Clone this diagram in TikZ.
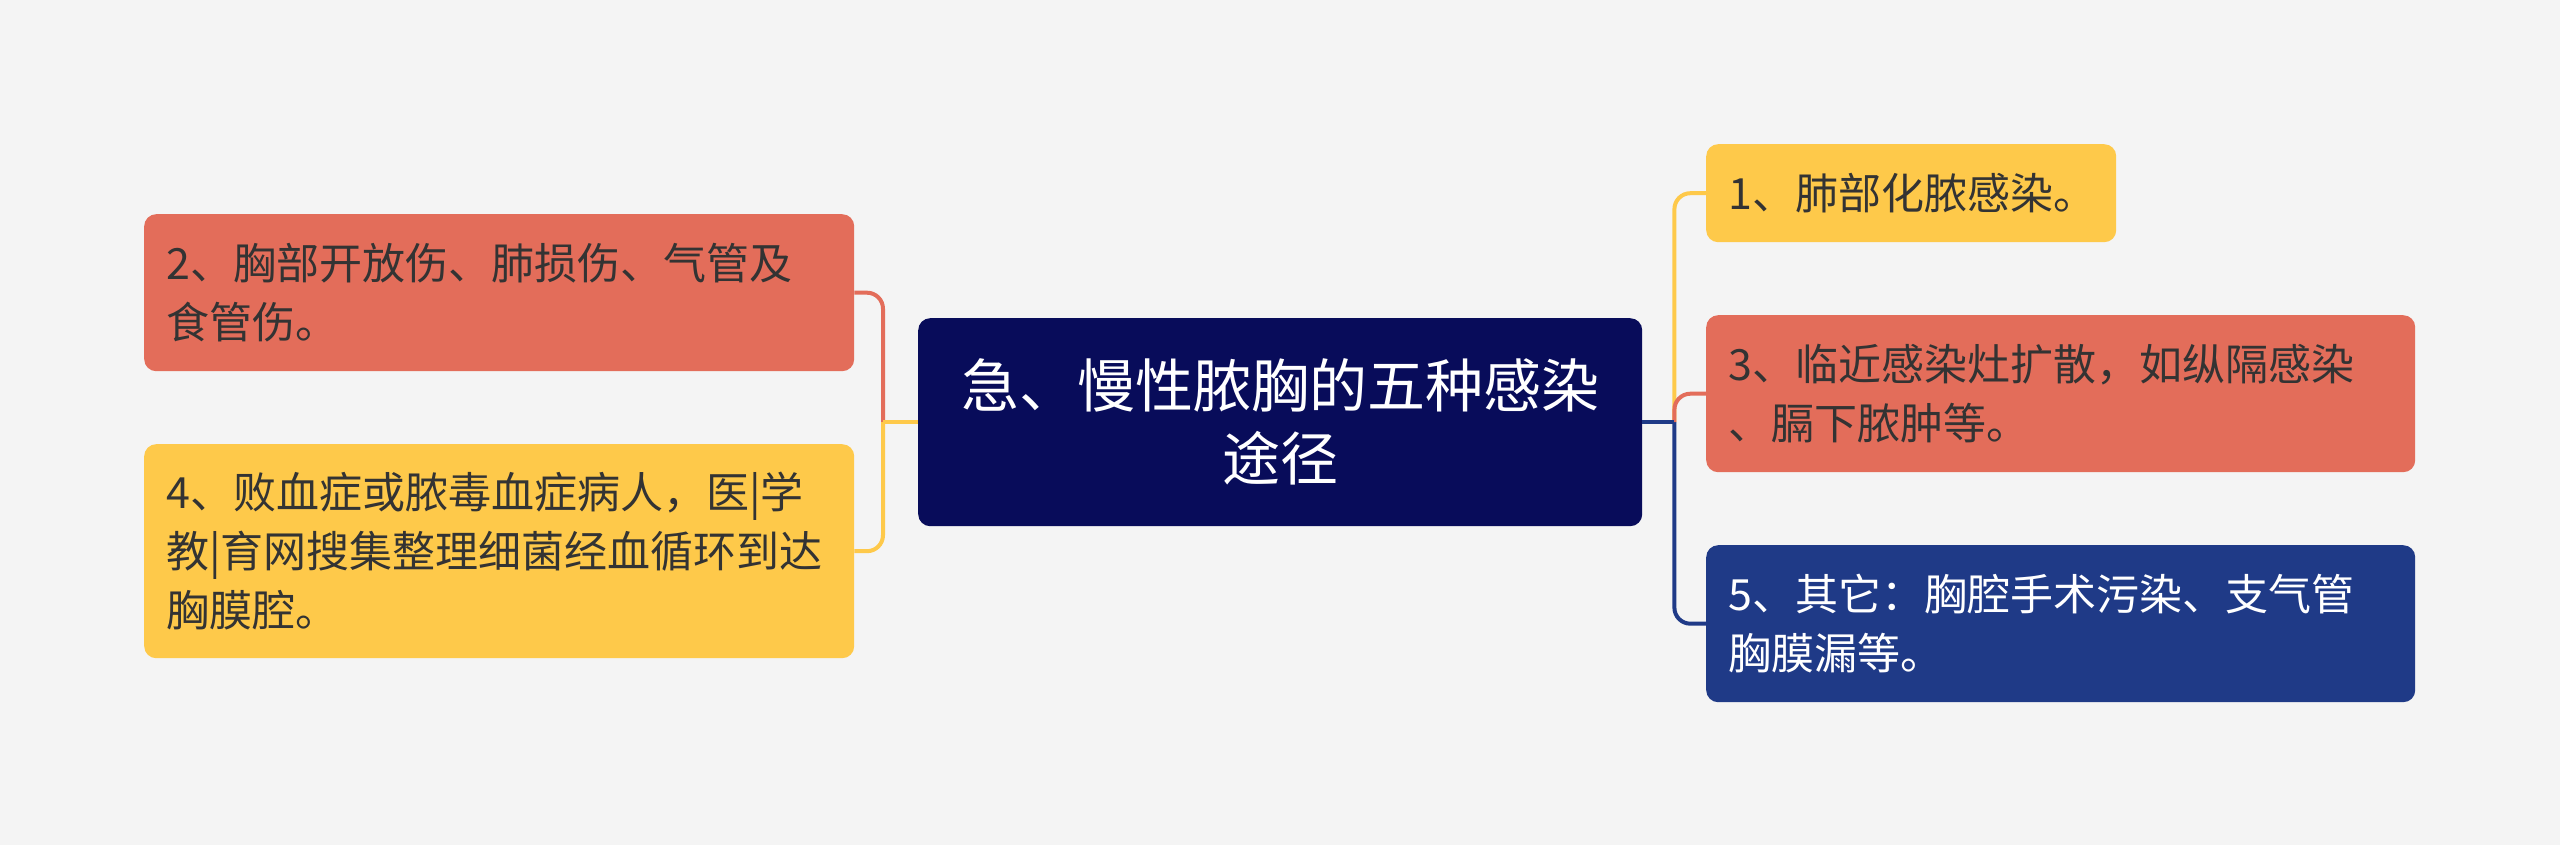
\documentclass[tikz,border=0pt]{standalone}
\usepackage{fontspec}
\setmainfont{Noto Sans CJK SC}
\definecolor{bg}{HTML}{F4F4F4}
\definecolor{navy}{HTML}{080C5A}
\definecolor{coral}{HTML}{E36D5A}
\definecolor{sun}{HTML}{FEC94A}
\definecolor{deepblue}{HTML}{1F3A87}
\definecolor{ink}{HTML}{333333}
\begin{document}
\begin{tikzpicture}[x=1pt, y=-1pt,
    box/.style={anchor=north west, rounded corners=12pt, inner xsep=22pt, inner ysep=0pt,
      align=left, text=ink, font=\fontsize{43}{59}\selectfont},
    link/.style={line width=4pt, rounded corners=16pt}]
    \fill[bg] (0,0) rectangle (2560,845);
    % centre
    \node[box, fill=navy, text=white, align=center, text width=680pt, minimum height=208pt,
      font=\fontsize{58}{73}\selectfont] (core) at (918,318) {急、慢性脓胸的五种感染\\途径};
    % left
    \node[box, fill=coral, text width=666pt, minimum height=157pt] (n2) at (144,214)
      {2、胸部开放伤、肺损伤、气管及\\食管伤。};
    \node[box, fill=sun, text width=666pt, minimum height=214pt] (n4) at (144,444)
      {4、败血症或脓毒血症病人，医|学\\教|育网搜集整理细菌经血循环到达\\胸膜腔。};
    % right
    \node[box, fill=sun, text width=366pt, minimum height=98pt] (n1) at (1706,144)
      {1、肺部化脓感染。};
    \node[box, fill=coral, text width=665pt, minimum height=157pt] (n3) at (1706,315)
      {3、临近感染灶扩散，如纵隔感染\\、膈下脓肿等。};
    \node[box, fill=deepblue, text=white, text width=665pt, minimum height=157pt] (n5) at (1706,545)
      {5、其它：胸腔手术污染、支气管\\胸膜漏等。};
    \coordinate (jl) at ([xshift=-35pt]core.west);
    \coordinate (jr) at ([xshift=32pt]core.east);
    \draw[link, coral] (jl) |- (n2.east);
    \draw[link, sun] (jl) |- (n4.east);
    \draw[link, sun] (core.west) -- (jl);
    \draw[link, sun] (jr) |- (n1.west);
    \draw[link, deepblue] (jr) |- (n5.west);
    \draw[link, coral] (jr) |- (n3.west);
    \draw[link, deepblue] (core.east) -- (jr);
  \end{tikzpicture}
\end{document}
